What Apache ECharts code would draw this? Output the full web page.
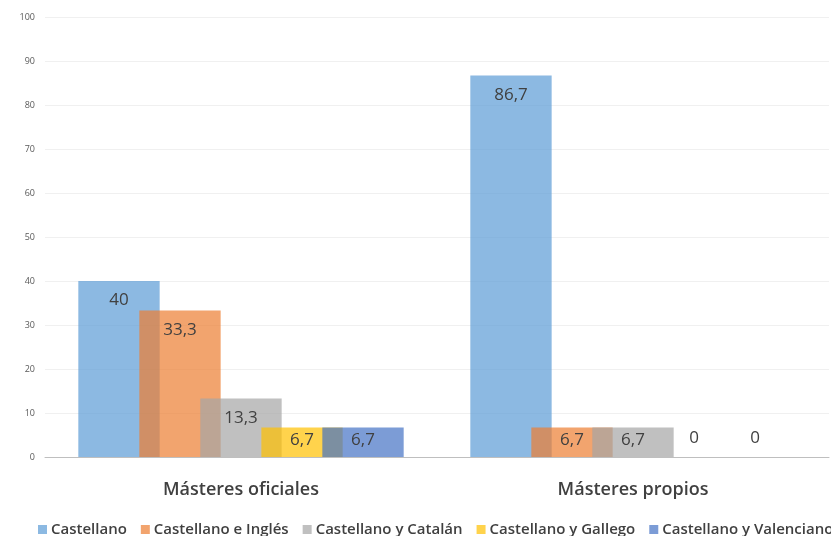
<!DOCTYPE html>
<html>
<head>
<meta charset="utf-8">
<script src="https://cdn.jsdelivr.net/npm/echarts@6/dist/echarts.min.js"></script>
<style>html,body{margin:0;padding:0;background:#fff;}#c{width:831px;height:536px;}</style>
</head>
<body>
<div id="c"></div>
<script>
const categories = ['Másteres oficiales', 'Másteres propios'];
const seriesNames = ['Castellano', 'Castellano e Inglés', 'Castellano y Catalán', 'Castellano y Gallego', 'Castellano y Valenciano'];
const castellano = [40, 86.7];
const castellanoIngles = [33.3, 6.7];
const castellanoCatalan = [13.3, 6.7];
const castellanoGallego = [6.7, 0];
const castellanoValenciano = [6.7, 0];
const yTicks = [0, 10, 20, 30, 40, 50, 60, 70, 80, 90, 100];

const seriesValues = [castellano, castellanoIngles, castellanoCatalan, castellanoGallego, castellanoValenciano];
const colors = ['rgba(91,155,213,0.7)', 'rgba(237,125,49,0.7)', 'rgba(165,165,165,0.7)', 'rgba(255,192,0,0.7)', 'rgba(68,114,196,0.7)'];

function fmt(v) { return String(v).replace('.', ','); }

const series = seriesValues.map((vals, i) => ({
  name: seriesNames[i],
  type: 'bar',
  barGap: '-25%',
  barCategoryGap: '17%',
  itemStyle: { color: colors[i] },
  data: vals.map(v => {
    let label;
    if (v === 0) label = { position: 'top', distance: 10 };
    else if (v < 10) label = { position: 'inside', offset: [0, -2] };
    else label = { position: 'insideTop', distance: 11 };
    return { value: v, label: label };
  }),
  label: {
    show: true,
    color: '#404040',
    fontSize: 17,
    fontFamily: 'Open Sans',
    formatter: p => fmt(p.value)
  }
}));

const chart = echarts.init(document.getElementById('c'));
chart.setOption({
  animation: false,
  color: colors,
  grid: { left: 45, right: 2, top: 17, bottom: 79, containLabel: false },
  legend: {
    data: seriesNames,
    left: 33,
    top: 517,
    width: 1200,
    itemWidth: 9,
    itemHeight: 9,
    itemGap: 14,
    icon: 'rect',
    textStyle: { color: '#404040', fontSize: 15, fontFamily: 'Open Sans', fontWeight: 600, padding: [0, 0, 0, -1] }
  },
  xAxis: {
    type: 'category',
    data: categories,
    axisTick: { show: false },
    axisLine: { lineStyle: { color: '#BFBFBF', width: 1 } },
    axisLabel: { color: '#404040', fontSize: 18, fontFamily: 'Open Sans', fontWeight: 600, margin: 24 }
  },
  yAxis: {
    type: 'value',
    min: yTicks[0],
    max: yTicks[yTicks.length - 1],
    interval: 10,
    axisLine: { show: false },
    axisTick: { show: false },
    splitLine: { lineStyle: { color: '#F0F0F0', width: 1 } },
    axisLabel: { color: '#595959', fontSize: 9, fontFamily: 'Open Sans', margin: 10 }
  },
  series: series
});
</script>
</body>
</html>
